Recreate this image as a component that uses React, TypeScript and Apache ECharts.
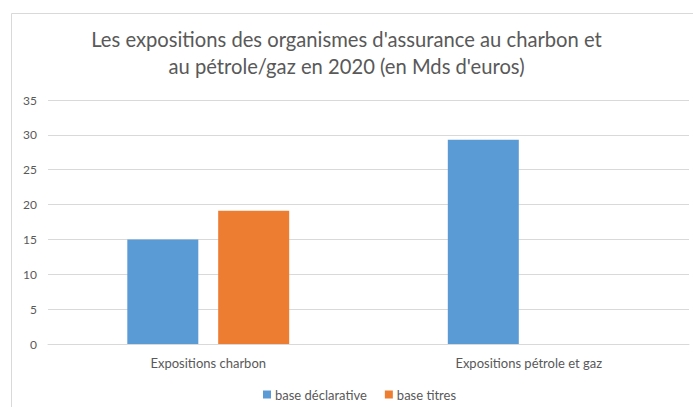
import React, { useEffect, useRef } from "react";
import * as echarts from "echarts";

const titleText =
  "Les expositions des organismes d'assurance au charbon et\nau pétrole/gaz en 2020 (en Mds d'euros)";
const categories = ["Expositions charbon", "Expositions pétrole et gaz"];
const seriesNames = ["base déclarative", "base titres"];
const declarative = [15.0, 29.3];
const titres = [19.1, null];
const yMin = 0;
const yMax = 35;
const yInterval = 5;

export default function App() {
  const ref = useRef<HTMLDivElement>(null);
  useEffect(() => {
    if (!ref.current) return;
    const chart = echarts.init(ref.current, undefined, { renderer: "svg" });
    const font = "Lato, 'Open Sans', sans-serif";
    chart.setOption({
      animation: false,
      backgroundColor: "#ffffff",
      textStyle: { fontFamily: font },
      title: {
        text: titleText,
        left: "center",
        top: 20,
        padding: [5, 12, 5, 0],
        textStyle: {
          fontFamily: font,
          fontSize: 20.2,
          fontWeight: "normal",
          color: "#595959",
          lineHeight: 27,
        },
      },
      graphic: [
        {
          type: "polyline",
          shape: { points: [[11.5, 420], [11.5, 13.5], [700, 13.5]] },
          style: { stroke: "#d9d9d9", lineWidth: 1, fill: null },
          silent: true,
        },
      ],
      legend: {
        bottom: 1,
        left: 258,
        itemWidth: 8,
        itemHeight: 8,
        itemGap: 18,
        icon: "rect",
        textStyle: { fontFamily: font, fontSize: 13, color: "#595959", padding: [0, 0, 0, -1] },
        data: seriesNames,
      },
      grid: { left: 48, right: 4, top: 100, bottom: 63, containLabel: false },
      xAxis: {
        type: "category",
        data: categories,
        axisLine: { show: true, lineStyle: { color: "#d9d9d9" } },
        axisTick: { show: false },
        axisLabel: { fontFamily: font, fontSize: 13, color: "#595959", margin: 12 },
      },
      yAxis: {
        type: "value",
        min: yMin,
        max: yMax,
        interval: yInterval,
        axisLine: { show: false },
        axisTick: { show: false },
        splitLine: { lineStyle: { color: "#d9d9d9" } },
        axisLabel: { fontFamily: font, fontSize: 12, color: "#595959", margin: 11 },
      },
      series: [
        {
          name: seriesNames[0],
          type: "bar",
          data: declarative,
          barWidth: 71,
          barGap: "28%",
          itemStyle: { color: "#5b9bd5" },
        },
        {
          name: seriesNames[1],
          type: "bar",
          data: titres,
          barWidth: 71,
          itemStyle: { color: "#ed7d31" },
        },
      ],
    });
    return () => chart.dispose();
  }, []);
  return (
    <div
      ref={ref}
      style={{ position: "fixed", left: 0, top: 0, width: 693, height: 407 }}
    />
  );
}
